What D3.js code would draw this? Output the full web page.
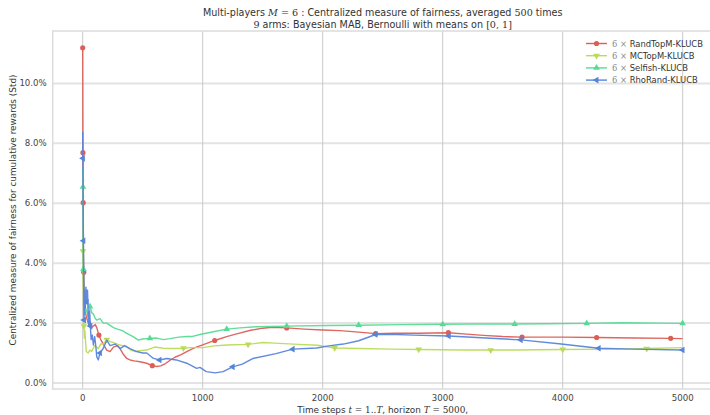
<!DOCTYPE html>
<html>
<head>
<meta charset="utf-8">
<script src="https://cdn.jsdelivr.net/npm/d3@7"></script>
<style>
  html, body { margin: 0; padding: 0; background: #fff; }
  svg { display: block; font-family: 'DejaVu Sans', sans-serif; }
</style>
</head>
<body>
<div id="chart"></div>
<script>
// values (t, fairness in %)
const randTopM_t = [0, 2, 4, 6, 9, 13, 18, 25, 35, 50, 61, 75, 89, 105, 117, 135, 150, 172, 200, 228, 256, 290, 311, 340, 367, 394, 430, 478, 533, 580, 617, 650, 690, 728, 769, 820, 867, 930, 1000, 1100, 1200, 1275, 1400, 1500, 1578, 1700, 1844, 2000, 2144, 2300, 2441, 2600, 2800, 3047, 3200, 3339, 3500, 3661, 4000, 4283, 4600, 4900, 4999]
const randTopM_v = [11.19, 7.69, 6.02, 4.33, 3.7, 3.1, 2.6, 2.3, 2.15, 1.95, 2.05, 1.85, 1.9, 1.95, 1.85, 1.6, 1.45, 1.3, 1.1, 1.05, 1.2, 1.25, 1.15, 0.95, 0.82, 0.77, 0.74, 0.71, 0.66, 0.58, 0.55, 0.57, 0.65, 0.76, 0.86, 0.95, 1.05, 1.17, 1.27, 1.42, 1.55, 1.63, 1.76, 1.83, 1.86, 1.84, 1.8, 1.77, 1.75, 1.7, 1.65, 1.66, 1.66, 1.68, 1.63, 1.59, 1.55, 1.53, 1.53, 1.52, 1.5, 1.49, 1.48]

const mcTopM_t = [0, 2, 4, 7, 10, 14, 18, 24, 30, 45, 60, 75, 100, 130, 150, 172, 200, 228, 256, 290, 330, 367, 400, 440, 478, 533, 600, 672, 728, 839, 900, 1000, 1100, 1200, 1378, 1500, 1600, 1800, 1958, 2100, 2300, 2561, 2800, 3000, 3172, 3400, 3600, 3789, 4000, 4403, 4700, 4999]
const mcTopM_v = [4.9, 4.4, 3.3, 2.6, 1.9, 1.5, 1.75, 1.35, 1.05, 1.0, 1.1, 1.05, 1.25, 1.15, 1.3, 1.3, 1.45, 1.38, 1.35, 1.3, 1.25, 1.2, 1.1, 1.05, 1.08, 1.1, 1.2, 1.16, 1.15, 1.16, 1.18, 1.18, 1.24, 1.27, 1.29, 1.35, 1.33, 1.29, 1.26, 1.17, 1.15, 1.13, 1.12, 1.11, 1.1, 1.1, 1.1, 1.11, 1.12, 1.13, 1.15, 1.18]

const selfish_t = [0, 2, 4, 6, 9, 12, 16, 20, 26, 33, 45, 61, 75, 89, 105, 117, 144, 172, 200, 256, 290, 330, 367, 420, 463, 500, 560, 617, 672, 728, 800, 867, 908, 977, 1100, 1200, 1311, 1450, 1700, 2033, 2300, 2644, 3000, 3255, 3600, 3867, 4200, 4492, 4800, 4999]
const selfish_v = [7.2, 6.55, 5.0, 3.8, 3.0, 2.5, 2.3, 2.6, 2.4, 2.45, 2.2, 2.55, 2.35, 2.3, 2.15, 2.1, 2.15, 2.0, 2.0, 1.85, 1.8, 1.75, 1.66, 1.55, 1.43, 1.47, 1.49, 1.5, 1.45, 1.48, 1.53, 1.55, 1.55, 1.62, 1.72, 1.8, 1.84, 1.88, 1.9, 1.92, 1.93, 1.95, 1.96, 1.97, 1.97, 1.98, 1.99, 2.01, 2.0, 1.99]

const rhoRand_t = [0, 2, 4, 6, 8, 11, 14, 18, 22, 27, 33, 40, 47, 52, 58, 64, 70, 80, 89, 100, 110, 117, 130, 144, 172, 200, 228, 270, 311, 350, 394, 450, 500, 533, 590, 640, 700, 780, 867, 950, 977, 1030, 1103, 1170, 1250, 1330, 1420, 1611, 1750, 1950, 2050, 2172, 2300, 2441, 2550, 2756, 3050, 3361, 3650, 3969, 4300, 4583, 4999]
const rhoRand_v = [8.39, 7.5, 5.8, 4.75, 3.5, 2.1, 2.6, 3.1, 2.5, 3.2, 2.7, 3.1, 2.2, 1.9, 2.4, 1.9, 1.45, 1.6, 1.27, 1.55, 1.2, 0.88, 0.77, 1.0, 1.16, 1.43, 1.25, 1.3, 1.15, 1.25, 1.15, 1.05, 1.0, 1.0, 0.82, 0.77, 0.82, 0.77, 0.66, 0.49, 0.52, 0.38, 0.34, 0.38, 0.54, 0.63, 0.82, 0.98, 1.13, 1.17, 1.24, 1.3, 1.41, 1.62, 1.63, 1.6, 1.57, 1.5, 1.44, 1.31, 1.16, 1.13, 1.1]

const seriesNames = ['RandTopM-KLUCB', 'MCTopM-KLUCB', 'Selfish-KLUCB', 'RhoRand-KLUCB']
const seriesColors = ['#db5f57', '#b9db57', '#57db94', '#5784db']
const seriesT = [randTopM_t, mcTopM_t, selfish_t, rhoRand_t]
const seriesV = [randTopM_v, mcTopM_v, selfish_v, rhoRand_v]

const xTicks = [0, 1000, 2000, 3000, 4000, 5000]
const yTicks = [0, 2, 4, 6, 8, 10]

const width = 710
const height = 415
// axes box in pixels (right edge falls just outside the picture, as in the original)
const box = { left: 52.7, right: 712.7, top: 31, bottom: 389 }

const x = d3.scaleLinear().domain([-250, 5250]).range([box.left, box.right])
const y = d3.scaleLinear().domain([-0.2, 11.75]).range([box.bottom, box.top])

const svg = d3.select('#chart').append('svg')
  .attr('width', width)
  .attr('height', height)
  .attr('viewBox', `0 0 ${width} ${height}`)

// grid
svg.append('g').selectAll('line').data(yTicks).join('line')
  .attr('x1', box.left).attr('x2', box.right)
  .attr('y1', (d) => y(d)).attr('y2', (d) => y(d))
  .attr('stroke', '#e3e3e3').attr('stroke-width', 2)

svg.append('g').selectAll('line').data(xTicks).join('line')
  .attr('x1', (d) => x(d)).attr('x2', (d) => x(d))
  .attr('y1', box.top).attr('y2', box.bottom)
  .attr('stroke', '#c9c9c9').attr('stroke-width', 1)

// frame
svg.append('rect')
  .attr('x', box.left).attr('y', box.top)
  .attr('width', box.right - box.left).attr('height', box.bottom - box.top)
  .attr('fill', 'none').attr('stroke', '#dcdcdc').attr('stroke-width', 1.5)

// tick labels
svg.append('g').selectAll('text').data(yTicks).join('text')
  .attr('x', box.left - 6).attr('y', (d) => y(d) + 3)
  .attr('text-anchor', 'end').attr('font-size', 8.6).attr('fill', '#444')
  .text((d) => d.toFixed(1) + '%')

svg.append('g').selectAll('text').data(xTicks).join('text')
  .attr('x', (d) => x(d)).attr('y', 401)
  .attr('text-anchor', 'middle').attr('font-size', 8.6).attr('fill', '#444')
  .text((d) => d)

// axis labels
svg.append('text')
  .attr('transform', `translate(16,${(box.top + box.bottom) / 2}) rotate(-90)`)
  .attr('text-anchor', 'middle').attr('font-size', 8.9).attr('fill', '#333')
  .text('Centralized measure of fairness for cumulative rewards (Std)')

const xl = svg.append('text')
  .attr('x', (box.left + box.right) / 2).attr('y', 412.5)
  .attr('text-anchor', 'middle').attr('font-size', 8.9).attr('fill', '#333')
xl.append('tspan').text('Time steps ')
xl.append('tspan').attr('font-family', 'DejaVu Serif').attr('font-style', 'italic').text('t')
xl.append('tspan').attr('font-family', 'DejaVu Serif').text(' = 1..')
xl.append('tspan').attr('font-family', 'DejaVu Serif').attr('font-style', 'italic').text('T')
xl.append('tspan').text(', horizon ')
xl.append('tspan').attr('font-family', 'DejaVu Serif').attr('font-style', 'italic').text('T')
xl.append('tspan').attr('font-family', 'DejaVu Serif').text(' = 5000')
xl.append('tspan').text(',')

// title
const t1 = svg.append('text')
  .attr('x', (box.left + box.right) / 2).attr('y', 16)
  .attr('text-anchor', 'middle').attr('font-size', 9.6).attr('fill', '#333')
t1.append('tspan').text('Multi-players ')
t1.append('tspan').attr('font-family', 'DejaVu Serif').attr('font-style', 'italic').text('M')
t1.append('tspan').attr('font-family', 'DejaVu Serif').text(' = 6')
t1.append('tspan').text(' : Centralized measure of fairness, averaged ')
t1.append('tspan').attr('font-family', 'DejaVu Serif').text('500')
t1.append('tspan').text(' times')

const t2 = svg.append('text')
  .attr('x', (box.left + box.right) / 2).attr('y', 27.5)
  .attr('text-anchor', 'middle').attr('font-size', 9.6).attr('fill', '#333')
t2.append('tspan').attr('font-family', 'DejaVu Serif').text('9')
t2.append('tspan').text(' arms: Bayesian MAB, Bernoulli with means on ')
t2.append('tspan').attr('font-family', 'DejaVu Serif').text('[0, 1]')

// marker shapes: circle, triangle down, triangle up, triangle left
const symbolFor = (i) => (i === 0 ? d3.symbol(d3.symbolCircle, 21) : d3.symbol(d3.symbolTriangle, 19))
const rotateFor = [0, 180, 0, -90]

// same idea as matplotlib float markevery=(start, step): spacing along the drawn path
const diag = Math.hypot(box.right - box.left, box.bottom - box.top)
function markEvery(pts, start, step) {
  const cum = [0]
  for (let i = 1; i < pts.length; i++) {
    cum.push(cum[i - 1] + Math.hypot(pts[i][0] - pts[i - 1][0], pts[i][1] - pts[i - 1][1]))
  }
  const total = cum[cum.length - 1]
  const picked = new Set()
  for (let tgt = start * diag; tgt < total; tgt += step * diag) {
    let best = 0
    for (let k = 1; k < cum.length; k++) if (Math.abs(cum[k] - tgt) < Math.abs(cum[best] - tgt)) best = k
    picked.add(best)
  }
  return [...picked].sort((a, b) => a - b)
}

const plot = svg.append('g')
const line = d3.line()

seriesNames.forEach((name, i) => {
  const pts = seriesT[i].map((t, k) => [x(t), y(seriesV[i][k])])
  plot.append('path')
    .attr('d', line(pts))
    .attr('fill', 'none')
    .attr('stroke', seriesColors[i])
    .attr('stroke-width', 1.4)
    .attr('stroke-linejoin', 'round')
    .attr('opacity', 0.95)
  plot.append('g').selectAll('path')
    .data(markEvery(pts, i / 50, 0.1).map((k) => pts[k]))
    .join('path')
    .attr('d', symbolFor(i))
    .attr('transform', (p) => `translate(${p[0]},${p[1]}) rotate(${rotateFor[i]})`)
    .attr('fill', seriesColors[i])
})

// legend
const legend = svg.append('g')
seriesNames.forEach((name, i) => {
  const cy = 43.5 + i * 12.2
  legend.append('line')
    .attr('x1', 586).attr('x2', 607).attr('y1', cy).attr('y2', cy)
    .attr('stroke', seriesColors[i]).attr('stroke-width', 1.4)
  legend.append('path')
    .attr('d', symbolFor(i))
    .attr('transform', `translate(596.5,${cy}) rotate(${rotateFor[i]})`)
    .attr('fill', seriesColors[i])
  const tx = legend.append('text')
    .attr('x', 612).attr('y', cy + 3).attr('font-size', 8.4).attr('fill', '#333')
  tx.append('tspan').attr('font-family', 'DejaVu Serif').attr('fill', '#888').text('6 × ')
  tx.append('tspan').text(name)
})
</script>
</body>
</html>
